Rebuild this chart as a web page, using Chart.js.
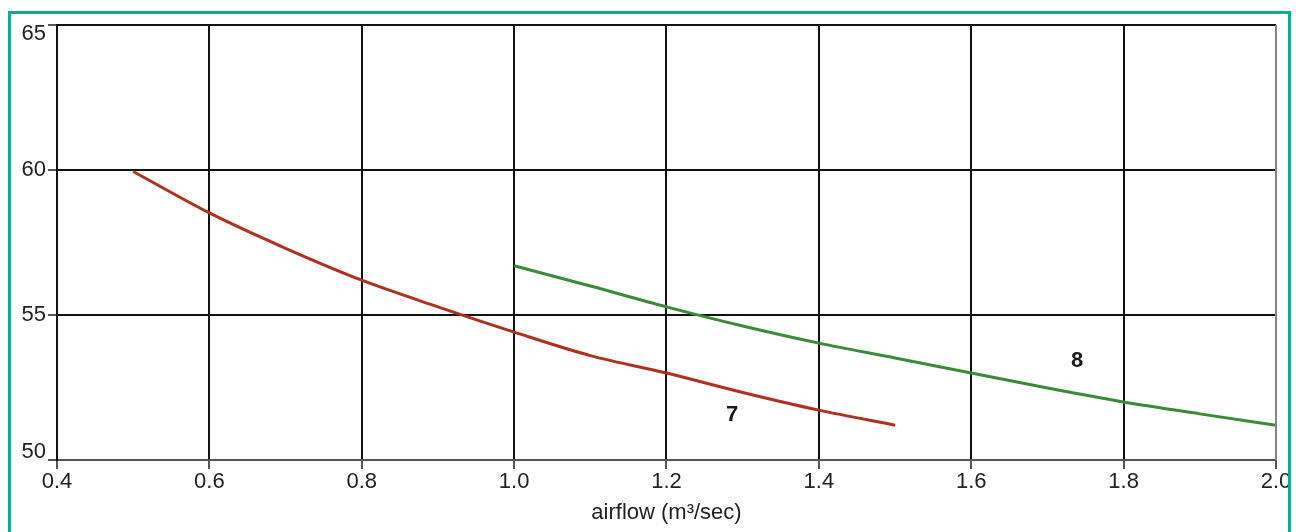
<!DOCTYPE html>
<html>
<head>
<meta charset="utf-8">
<script src="https://cdn.jsdelivr.net/npm/chart.js@4/dist/chart.umd.min.js"></script>
<style>
  html, body { margin: 0; padding: 0; background: #ffffff; overflow: hidden; }
  #wrap { position: relative; width: 1296px; height: 532px; }
  #frame { position: absolute; left: 8px; top: 11px; width: 1283px; height: 600px;
           border: 3px solid #17a98d; box-sizing: border-box; pointer-events: none; z-index: 2; }
  canvas { position: absolute; left: 0; top: 0; }
</style>
</head>
<body>
<div id="wrap">
  <canvas id="c" width="1296" height="532"></canvas>
  <div id="frame"></div>
</div>
<script>
// ---- data ----
const xTickValues = [0.4, 0.6, 0.8, 1.0, 1.2, 1.4, 1.6, 1.8, 2.0];
const yTickValues = [50, 55, 60, 65];

const curve7X = [0.5, 0.6, 0.7, 0.8, 0.9, 1.0, 1.1, 1.2, 1.3, 1.4, 1.5];
const curve7Y = [59.95, 58.52, 57.3, 56.2, 55.28, 54.41, 53.6, 53.0, 52.33, 51.72, 51.2];

const curve8X = [1.0, 1.1, 1.2, 1.3, 1.4, 1.5, 1.6, 1.7, 1.8, 1.9, 2.0];
const curve8Y = [56.7, 56.0, 55.28, 54.62, 54.03, 53.52, 53.0, 52.48, 52.0, 51.59, 51.2];

const curveLabelText = ['7', '8'];
const curveLabelX = [1.286, 1.739];
const curveLabelY = [51.55, 53.4];

const xTitle = 'airflow (m\u00B3/sec)';

const toPoints = (xs, ys) => xs.map((x, i) => ({ x: x, y: ys[i] }));

const FONT = '"Liberation Sans", Arial, Helvetica, sans-serif';

const labelPlugin = {
  id: 'curveLabels',
  afterDatasetsDraw(chart) {
    const ctx = chart.ctx;
    const xs = chart.scales.x, ys = chart.scales.y;
    ctx.save();
    ctx.font = 'bold 22px ' + FONT;
    ctx.fillStyle = '#1a1a1a';
    ctx.textAlign = 'center';
    ctx.textBaseline = 'middle';
    curveLabelText.forEach((t, i) => {
      ctx.fillText(t, xs.getPixelForValue(curveLabelX[i]), ys.getPixelForValue(curveLabelY[i]));
    });
    ctx.restore();
  }
};

// y tick labels: drawn by hand so the end labels sit inside the plot band like the reference
const yLabelPlugin = {
  id: 'yLabels',
  afterDraw(chart) {
    const ctx = chart.ctx, ys = chart.scales.y, a = chart.chartArea;
    ctx.save();
    ctx.font = '22px ' + FONT;
    ctx.fillStyle = '#222';
    ctx.textAlign = 'right';
    ctx.textBaseline = 'middle';
    yTickValues.forEach(v => {
      let py = ys.getPixelForValue(v);
      py = Math.min(Math.max(py, a.top + 9), a.bottom - 8);
      ctx.fillText(String(v), a.left - 11, py);
    });
    // right edge of the plot
    ctx.strokeStyle = '#8a8080';
    ctx.lineWidth = 2;
    ctx.beginPath();
    ctx.moveTo(a.right, a.top);
    ctx.lineTo(a.right, a.bottom);
    ctx.stroke();
    ctx.restore();
  }
};

new Chart(document.getElementById('c'), {
  type: 'scatter',
  data: {
    datasets: [
      { label: '7', data: toPoints(curve7X, curve7Y), showLine: true,
        borderColor: '#b0301f', borderWidth: 3, pointRadius: 0, cubicInterpolationMode: 'monotone', fill: false },
      { label: '8', data: toPoints(curve8X, curve8Y), showLine: true,
        borderColor: '#3b8a3a', borderWidth: 3, pointRadius: 0, cubicInterpolationMode: 'monotone', fill: false }
    ]
  },
  options: {
    responsive: false,
    animation: false,
    devicePixelRatio: 1,
    layout: { padding: { top: 25, right: 20, bottom: 0, left: 0 } },
    plugins: { legend: { display: false }, tooltip: { enabled: false } },
    scales: {
      x: {
        type: 'linear', min: 0.4, max: 2.0,
        afterBuildTicks: (s) => { s.ticks = xTickValues.map(v => ({ value: v })); },
        afterFit: (s) => { s.height = 72; },
        ticks: {
          color: '#222', font: { family: FONT, size: 22 }, padding: 0,
          maxRotation: 0, autoSkip: false,
          callback: (v) => Number(v).toFixed(1)
        },
        grid: { color: '#111', lineWidth: 2, tickLength: 9, tickColor: '#555' },
        border: { color: '#5a5252', width: 2 },
        title: { display: true, text: xTitle, color: '#222',
                 font: { family: FONT, size: 22 }, padding: { top: 0, bottom: 6 } }
      },
      y: {
        type: 'linear', min: 50, max: 65,
        afterBuildTicks: (s) => { s.ticks = yTickValues.map(v => ({ value: v })); },
        afterFit: (s) => { s.width = 57; },
        ticks: { display: false },
        grid: { color: '#111', lineWidth: 2, tickLength: 9, tickColor: '#555' },
        border: { color: '#111', width: 2 }
      }
    }
  },
  plugins: [labelPlugin, yLabelPlugin]
});
</script>
</body>
</html>
